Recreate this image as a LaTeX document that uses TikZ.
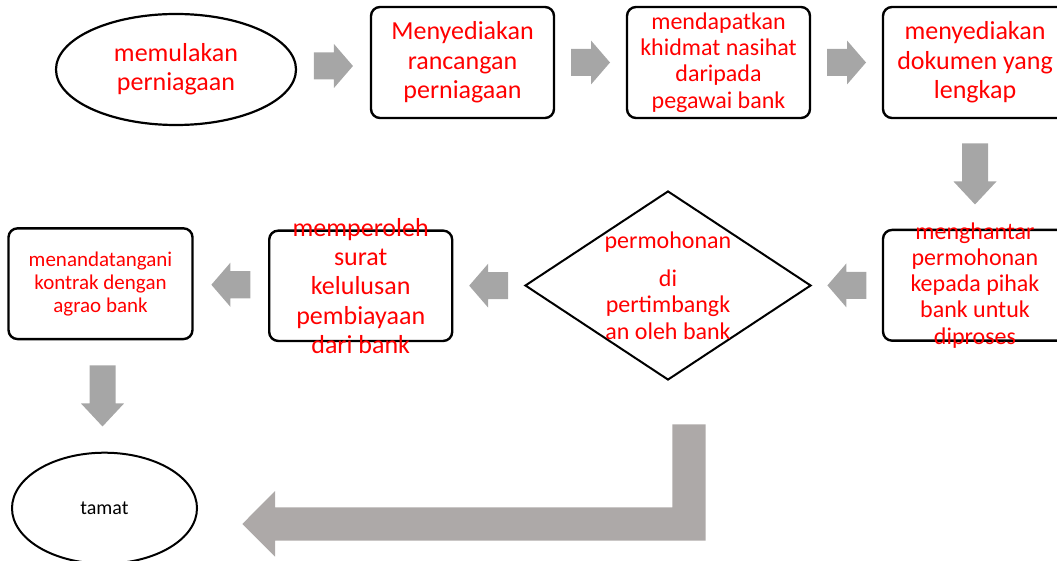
\documentclass[tikz,border=0pt]{standalone}
\usepackage{fontspec}
\setmainfont{Carlito}
\usetikzlibrary{shapes.geometric,calc}
\definecolor{txtred}{RGB}{255,0,0}
\definecolor{arrowgray}{RGB}{166,166,166}
\definecolor{bentgray}{RGB}{173,169,168}
\begin{document}
\begin{tikzpicture}[x=1pt,y=-1pt,
  box/.style={draw, line width=2.4pt, rounded corners=9pt, minimum width=183pt,
    minimum height=111pt, inner sep=0pt, align=center, text=txtred},
  oval/.style={draw, ellipse, line width=2.2pt, inner sep=0pt, align=center, text=txtred},
  bigtext/.style={font=\fontsize{26}{29.3}\selectfont},
  midtext/.style={font=\fontsize{24}{26.3}\selectfont},
  smalltext/.style={font=\fontsize{21}{23}\selectfont},
  redlabel/.style={text=txtred, align=center, inner sep=0pt},
  pics/harrow/.style={code={
    \fill[arrowgray] (-19.5,-13.5) -- (0.5,-13.5) -- (0.5,-22) -- (19.5,0)
      -- (0.5,22) -- (0.5,13.5) -- (-19.5,13.5) -- cycle;}},
  pics/varrow/.style={code={
    \fill[arrowgray] (-30.5,-13) -- (7.5,-13) -- (7.5,-21.5) -- (30.5,0)
      -- (7.5,21.5) -- (7.5,13) -- (-30.5,13) -- cycle;}}
]
\useasboundingbox (0,0) rectangle (1057,561);

% row 1
\node[oval, bigtext, minimum width=240pt, minimum height=111pt] (start) at (176,69.5)
  {memulakan\\perniagaan};
\node[box, bigtext] (plan) at (462.5,62.5) {Menyediakan\\rancangan\\perniagaan};
\node[box, midtext] (advice) at (718.5,62.5)
  {mendapatkan\\khidmat nasihat\\daripada\\pegawai bank};
\node[box, bigtext, minimum width=184pt] (docs) at (975,62.5)
  {menyediakan\\dokumen yang\\lengkap};

% row 2
\node[box, minimum width=184pt, minimum height=110.7pt,
  label={[redlabel, midtext]center:{menghantar\\permohonan\\kepada pihak\\bank untuk\\diproses}}]
  (send) at (975,285.3) {};
\node[draw, diamond, line width=2pt, inner sep=0pt, minimum width=286pt, minimum height=189pt,
  label={[redlabel, midtext]center:{permohonan\\[12pt]di\\pertimbangk\\an oleh bank}}]
  (decide) at (668,285.5) {};
\node[box, minimum width=183pt, minimum height=110.3pt,
  label={[redlabel, bigtext]center:{memperoleh\\surat\\kelulusan\\pembiayaan\\dari bank}}]
  (approve) at (360.7,285.8) {};
\node[box, smalltext, minimum width=184pt, minimum height=110.7pt] (sign) at (100.5,283.7)
  {menandatangani\\kontrak dengan\\agrao bank};

% end
\node[oval, text=black, line width=2pt, font=\fontsize{20}{24}\selectfont,
  minimum width=185pt, minimum height=111pt] (end) at (104.5,508.2) {tamat};

% block arrows
\pic at ($(start.east)!0.5!(plan.west)$) {harrow};
\pic at ($(plan.east)!0.5!(advice.west)$) {harrow};
\pic at ($(advice.east)!0.5!(docs.west)$) {harrow};
\pic[rotate=-90] at ($(docs.south)!0.5!(send.north)$) {varrow};
\pic[rotate=180] at ($(send.west)!0.5!(decide.east)$) {harrow};
\pic[rotate=180] at ($(decide.west)!0.5!(approve.east)$) {harrow};
\pic[rotate=180] at ($(approve.west)!0.5!(sign.east)$) {harrow};
\pic[rotate=-90] at ($(sign.south)!0.5!(end.north)$) {varrow};

% bent arrow from decision towards end
\fill[bentgray] (705.7,424.3) -- (705.7,540.7) -- (275,540.7) -- (275,556.7)
  -- (242.3,524) -- (275,491) -- (275,507.3) -- (672.3,507.3) -- (672.3,424.3) -- cycle;
\end{tikzpicture}
\end{document}
